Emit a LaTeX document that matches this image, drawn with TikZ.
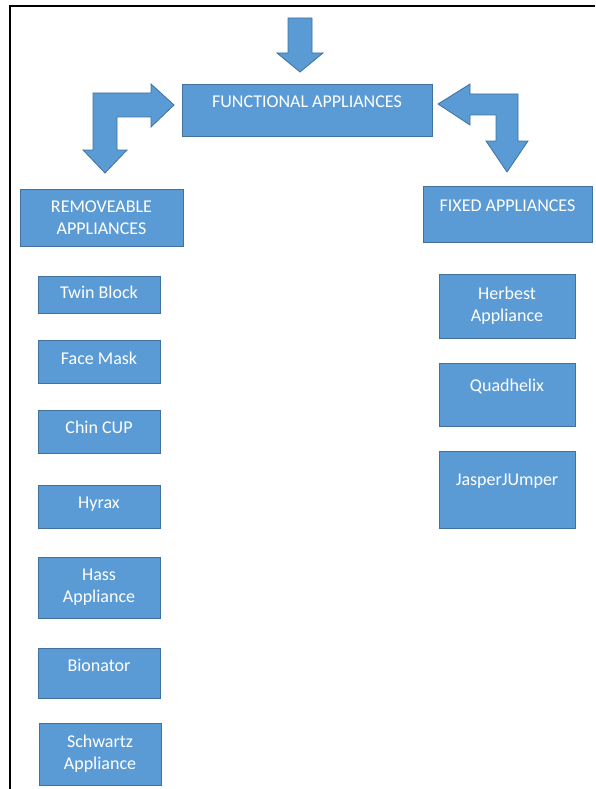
\documentclass[tikz,border=0pt]{standalone}
\usepackage{fontspec}
\setmainfont{Carlito}
\usepackage{xcolor}
\usepackage{tikz}
\definecolor{boxblue}{HTML}{5B9BD5}
\definecolor{boxline}{HTML}{41719C}
\tikzset{
  box/.style={draw=boxline, fill=boxblue, text=white, line width=0.8pt, inner sep=0pt, align=center, font=\fontsize{18}{22}\selectfont},
  blockarrow/.style={draw=boxline, fill=boxblue, line width=0.8pt, line join=miter}
}

\begin{document}
\begin{tikzpicture}[x=1pt,y=-1pt]
\useasboundingbox (0,0) rectangle (595,789);
\draw[line width=2pt] (595,6) -- (10,6) -- (10,789);

% top row
\node[box, minimum width=250pt, minimum height=52pt, text height=24pt, text depth=28pt] (func) at (307,110) {FUNCTIONAL APPLIANCES};
\node[box, minimum width=163pt, minimum height=57pt] (remov) at (101.5,217.5) {REMOVEABLE\\APPLIANCES};
\node[box, minimum width=169pt, minimum height=56pt, text height=25pt, text depth=31pt] (fixed) at (507.5,214) {FIXED APPLIANCES};

% removeable appliances
\node[box, minimum width=122pt, minimum height=37pt, text height=22pt, text depth=15pt] (twin) at (99,294.5) {Twin Block};
\node[box, minimum width=122pt, minimum height=43pt, text height=24pt, text depth=19pt] (face) at (99,361.5) {Face Mask};
\node[box, minimum width=122pt, minimum height=43pt, text height=23pt, text depth=20pt] (chin) at (99,431.5) {Chin CUP};
\node[box, minimum width=122pt, minimum height=43pt, text height=23pt, text depth=20pt] (hyrax) at (99,506.5) {Hyrax};
\node[box, minimum width=122pt, minimum height=61pt] (hass) at (99,587.5) {Hass\\Appliance};
\node[box, minimum width=122pt, minimum height=50pt, text height=23pt, text depth=27pt] (bion) at (99,673) {Bionator};
\node[box, minimum width=122pt, minimum height=62pt] (schw) at (100,754) {Schwartz\\Appliance};

% fixed appliances
\node[box, minimum width=136pt, minimum height=64pt] (herb) at (507,306) {Herbest\\Appliance};
\node[box, minimum width=136pt, minimum height=63pt, text height=28pt, text depth=35pt] (quad) at (507,394.5) {Quadhelix};
\node[box, minimum width=136pt, minimum height=77pt, text height=34pt, text depth=43pt] (jasp) at (507,489.5) {JasperJUmper};

% block arrows
\draw[blockarrow] (288,18) -- (312,18) -- (312,53) -- (323,53) -- (300,72) -- (277,53) -- (288,53) -- cycle;
\draw[blockarrow] (93,150) -- (93,93) -- (151,93) -- (151,84) -- (174,105) -- (151,127) -- (151,117) -- (117,117) -- (117,150) -- (127,150) -- (105,173) -- (83,150) -- cycle;
\draw[blockarrow] (438,104) -- (470,84) -- (470,94) -- (518,94) -- (518,141) -- (528,141) -- (507,172) -- (486,141) -- (496,141) -- (496,115) -- (470,115) -- (470,125) -- cycle;
\end{tikzpicture}
\end{document}
